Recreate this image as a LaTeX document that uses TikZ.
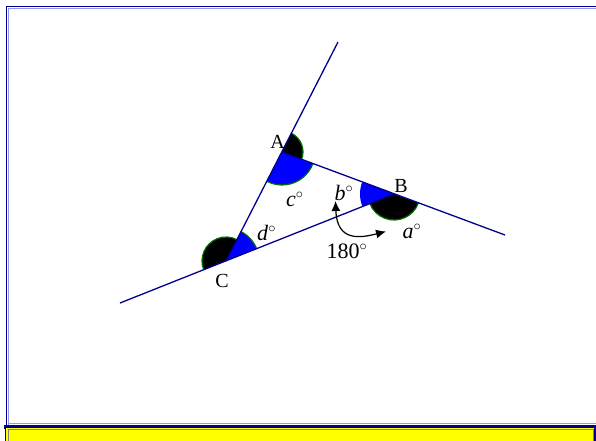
\documentclass[tikz,border=0pt]{standalone}
\usepackage{fontspec}
\setmainfont{Liberation Serif}
\usetikzlibrary{arrows.meta}
\definecolor{navy}{RGB}{0,0,140}
\definecolor{framelight}{RGB}{150,150,235}
\definecolor{arcgreen}{RGB}{0,110,0}
\definecolor{sectorblue}{RGB}{0,0,255}
\definecolor{bandyellow}{RGB}{255,255,0}
\tikzset{
  geoline/.style={navy, line width=1.3pt},
  arcedge/.style={arcgreen, line width=1.2pt},
  vlabel/.style={font=\fontsize{20}{24}\selectfont, inner sep=0pt, anchor=base},
  alabel/.style={font=\fontsize{22}{26}\selectfont, inner sep=0pt, anchor=base west},
  turnarrow/.style={black, line width=1.2pt, {Latex[length=10pt,width=9pt]}-{Latex[length=10pt,width=9pt]}}
}
\begin{document}
\begin{tikzpicture}[x=1pt,y=-1pt]
\useasboundingbox (0,0) rectangle (596,440);
% frame
\fill[white] (0,0) rectangle (596,440);
\draw[framelight, line width=0.8pt] (8.2,426) -- (8.2,8.2) -- (600,8.2);
\draw[navy, line width=1.6pt] (6.5,426) -- (6.5,6.5) -- (600,6.5);
\draw[framelight, line width=0.8pt] (8,423.8) -- (600,423.8);
\fill[navy] (4,424.8) rectangle (600,428.5);
\filldraw[fill=bandyellow, draw=navy, line width=1.5pt] (5.5,427) rectangle (594.8,460);
\draw[gray, line width=0.6pt] (8.3,460) -- (8.3,429.6) -- (593.5,429.6) -- (593.5,460);

% points
\coordinate (A) at (282,152);
\coordinate (B) at (394,194);
\coordinate (C) at (226,261);
\coordinate (T) at (338,42);
\coordinate (E) at (505,235);
\coordinate (S) at (120,303);

% sectors at A
\fill[black] (A) -- ++(-63:21) arc[start angle=-63, end angle=20.6, radius=21] -- cycle;
\draw[arcedge] (A) ++(-63:21) arc[start angle=-63, end angle=20.6, radius=21];
\fill[sectorblue] (A) -- ++(20.6:33) arc[start angle=20.6, end angle=117.2, radius=33] -- cycle;
\draw[arcedge] (A) ++(20.6:33) arc[start angle=20.6, end angle=117.2, radius=33];
% sectors at B
\fill[sectorblue] (B) -- ++(158.3:34) arc[start angle=158.3, end angle=200.6, radius=34] -- cycle;
\fill[black] (B) -- ++(20.7:26) arc[start angle=20.7, end angle=158.3, radius=26] -- cycle;
\draw[arcedge] (B) ++(20.7:26) arc[start angle=20.7, end angle=158.3, radius=26];
% sectors at C
\fill[sectorblue] (C) -- ++(-62.8:33) arc[start angle=-62.8, end angle=-21.7, radius=33] -- cycle;
\draw[arcedge] (C) ++(-62.8:33) arc[start angle=-62.8, end angle=-21.7, radius=33];
\fill[black] (C) -- ++(-201.6:24) arc[start angle=-201.6, end angle=-62.8, radius=24] -- cycle;
\draw[arcedge] (C) ++(-201.6:24) arc[start angle=-201.6, end angle=-62.8, radius=24];

% lines
\draw[geoline] (C) -- (T);
\draw[geoline] (A) -- (E);
\draw[geoline] (S) -- (B);

% vertex labels
\node[vlabel] (lA) at (277.5,148) {A};
\node[vlabel] (lB) at (401,192) {B};
\node[vlabel] (lC) at (222,287) {C};

% angle labels
\node[alabel] (lc) at (286,206.5) {\textit{c}$^\circ$};
\node[alabel] (lb) at (334.5,200) {\textit{b}$^\circ$};
\node[alabel] (ld) at (257,240) {\textit{d}$^\circ$};
\node[alabel] (la) at (402.5,238) {\textit{a}$^\circ$};
\node[alabel] (l180) at (326.5,258) {180$^\circ$};

% turning arrow
\coordinate (arrTop) at (335.5,201);
\coordinate (arrEnd) at (386,231.5);
\draw[turnarrow] (arrTop) .. controls (337,242) and (360,238) .. (arrEnd);
\end{tikzpicture}
\end{document}
